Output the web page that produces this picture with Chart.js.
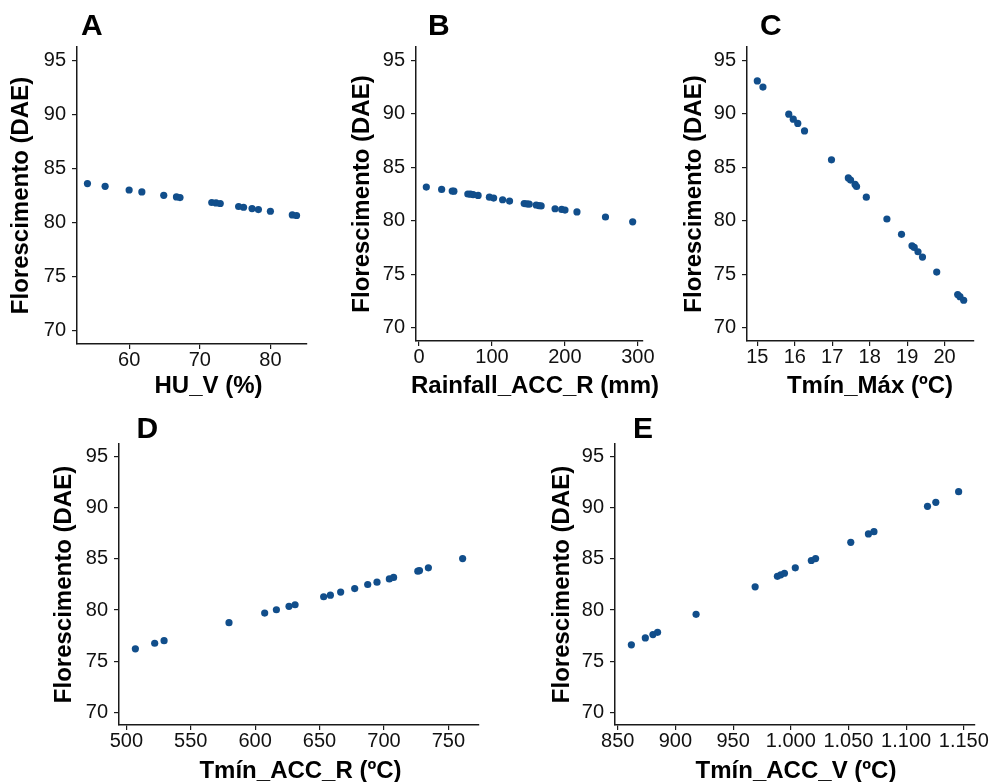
<!DOCTYPE html>
<html>
<head>
<meta charset="utf-8">
<script src="https://cdn.jsdelivr.net/npm/chart.js@4.4.1/dist/chart.umd.min.js"></script>
<style>
  html, body { margin: 0; padding: 0; background: #fff; overflow: hidden; width: 992px; height: 782px; }
  .panel { position: absolute; }
</style>
</head>
<body>
<div class="panel" id="wrap-a"><canvas id="chart-a"></canvas></div>
<div class="panel" id="wrap-b"><canvas id="chart-b"></canvas></div>
<div class="panel" id="wrap-c"><canvas id="chart-c"></canvas></div>
<div class="panel" id="wrap-d"><canvas id="chart-d"></canvas></div>
<div class="panel" id="wrap-e"><canvas id="chart-e"></canvas></div>
<script>
// shared y axis (limits 70-95, ggplot 5% expansion)
const yLimits = [70, 95];
const yTicks = [70, 75, 80, 85, 90, 95];

// A - HU_V (%)
const huV = [54.1, 56.6, 60.0, 61.8, 64.9, 66.7, 67.2, 71.7, 72.3, 72.9, 75.5, 76.2, 77.4, 78.3, 80.0, 83.1, 83.7];
const huVDae = [83.60, 83.35, 83.01, 82.83, 82.52, 82.37, 82.31, 81.85, 81.81, 81.76, 81.48, 81.41, 81.29, 81.20, 81.04, 80.70, 80.65];
const huVTicks = [60, 70, 80];

// B - Rainfall_ACC_R (mm)
const rainAcc = [10, 31, 45.5, 47.8, 66.9, 70.5, 74.2, 81, 96.5, 102.3, 114.6, 124.1, 144.2, 147.9, 151, 160.6, 164.2, 167.4, 186.5, 195.6, 200.1, 216.5, 255.6, 292.9];
const rainDae = [83.15, 82.93, 82.78, 82.76, 82.5, 82.48, 82.45, 82.37, 82.2, 82.12, 81.96, 81.84, 81.6, 81.58, 81.55, 81.47, 81.42, 81.38, 81.12, 81.06, 81.0, 80.82, 80.35, 79.9];
const rainTicks = [0, 100, 200, 300];

// C - Tmín_Máx (ºC)
const tminMax = [15.0, 15.15, 15.84, 15.96, 16.08, 16.26, 16.98, 17.43, 17.49, 17.61, 17.65, 17.91, 18.46, 18.85, 19.13, 19.19, 19.29, 19.41, 19.79, 20.35, 20.41, 20.51];
const tminMaxDae = [93.08, 92.5, 89.97, 89.5, 89.1, 88.4, 85.7, 84.0, 83.8, 83.4, 83.2, 82.2, 80.16, 78.73, 77.66, 77.5, 77.1, 76.6, 75.2, 73.1, 72.9, 72.56];
const tminMaxTicks = [15, 16, 17, 18, 19, 20];

// D - Tmín_ACC_R (ºC)
const tminAccR = [507.0, 522.0, 529.3, 579.7, 607.4, 616.5, 626.3, 631.0, 653.2, 658.4, 666.4, 677.3, 687.4, 694.6, 704.2, 707.5, 726.3, 727.6, 734.5, 761.1];
const tminAccRDae = [76.2, 76.75, 77.0, 78.76, 79.7, 80.03, 80.36, 80.52, 81.3, 81.46, 81.76, 82.1, 82.5, 82.73, 83.05, 83.19, 83.8, 83.86, 84.13, 85.04];
const tminAccRTicks = [500, 550, 600, 650, 700, 750];

// E - Tmín_ACC_V (ºC)
const tminAccV = [861.8, 873.9, 880.5, 884.5, 917.9, 969.1, 988.4, 991.3, 994.5, 1003.9, 1017.8, 1021.5, 1052.0, 1067.3, 1072.1, 1118.5, 1125.7, 1145.5];
const tminAccVDae = [76.6, 77.27, 77.6, 77.82, 79.58, 82.27, 83.3, 83.45, 83.6, 84.13, 84.85, 85.04, 86.63, 87.45, 87.67, 90.15, 90.54, 91.58];
const tminAccVTicks = [850, 900, 950, 1000, 1050, 1100, 1150];

const FONT = '"Liberation Sans", Arial, Helvetica, sans-serif';
const DOT = '#114e8b';
const AXIS = '#1a1a1a';
const Y_AXIS_W = 75;
const X_AXIS_H = 60;
const PAD_R = 28;

// ggplot style 5% expansion
const expand = (lo, hi) => [lo - (hi - lo) * 0.05, hi + (hi - lo) * 0.05];
const fmtNum = v => String(v).replace(/\B(?=(\d{3})+(?!\d))/g, '.');

const panels = [
    { id: 'a', letter: 'A', xTitle: 'HU_V (%)', xs: huV, ys: huVDae, ticks: huVTicks,
      top: 0, area: { l: 77, t: 47, r: 307, b: 344 }, letterAt: [81, 35], titleAt: [208.5, 393], yTitleX: 21 },
    { id: 'b', letter: 'B', xTitle: 'Rainfall_ACC_R (mm)', xs: rainAcc, ys: rainDae, ticks: rainTicks,
      top: 0, area: { l: 416, t: 47, r: 643, b: 341 }, letterAt: [428, 35], titleAt: [535, 393], yTitleX: 362.5 },
    { id: 'c', letter: 'C', xTitle: 'Tmín_Máx (ºC)', xs: tminMax, ys: tminMaxDae, ticks: tminMaxTicks,
      top: 0, area: { l: 747, t: 47, r: 974, b: 341 }, letterAt: [760, 35], titleAt: [870, 393], yTitleX: 694 },
    { id: 'd', letter: 'D', xTitle: 'Tmín_ACC_R (ºC)', xs: tminAccR, ys: tminAccRDae, ticks: tminAccRTicks,
      top: 392, area: { l: 118.5, t: 444, r: 478.5, b: 725 }, letterAt: [136, 438], titleAt: [300, 778], yTitleX: 64 },
    { id: 'e', letter: 'E', xTitle: 'Tmín_ACC_V (ºC)', xs: tminAccV, ys: tminAccVDae, ticks: tminAccVTicks,
      top: 392, area: { l: 615, t: 444, r: 975, b: 725 }, letterAt: [633, 438], titleAt: [796, 778], yTitleX: 562 }
];

// letter tag and x title drawn at their own spots
const panelText = {
    id: 'panelText',
    afterDraw(chart, args, opts) {
        const ctx = chart.ctx;
        ctx.save();
        ctx.fillStyle = '#000';
        ctx.textBaseline = 'alphabetic';
        ctx.textAlign = 'left';
        ctx.font = `bold 30px ${FONT}`;
        ctx.fillText(opts.letter, opts.letterAt[0] - opts.ox, opts.letterAt[1] - opts.oy);
        ctx.textAlign = 'center';
        ctx.font = `bold 24px ${FONT}`;
        ctx.fillText(opts.xTitle, opts.titleAt[0] - opts.ox, opts.titleAt[1] - opts.oy);
        ctx.restore();
    }
};

const tickGrid = { display: true, drawOnChartArea: false, drawTicks: true, tickLength: 5, color: AXIS, lineWidth: 1.2 };
const axisBorder = { display: true, color: AXIS, width: 1.5 };

panels.forEach(p => {
    const ox = p.area.l - Y_AXIS_W;
    const oy = p.top;
    const w = p.area.r - ox + PAD_R;
    const h = p.area.b + X_AXIS_H - oy;

    const wrap = document.getElementById('wrap-' + p.id);
    wrap.style.left = ox + 'px';
    wrap.style.top = oy + 'px';
    const canvas = document.getElementById('chart-' + p.id);
    canvas.width = w;
    canvas.height = h;
    canvas.style.width = w + 'px';
    canvas.style.height = h + 'px';

    const [xMin, xMax] = expand(Math.min(...p.xs), Math.max(...p.xs));
    const [yMin, yMax] = expand(yLimits[0], yLimits[1]);
    const yTitleHalf = 24 * 1.2 / 2;

    new Chart(canvas, {
        type: 'scatter',
        data: {
            datasets: [{
                data: p.xs.map((x, i) => ({ x, y: p.ys[i] })),
                pointRadius: 3.6,
                pointHoverRadius: 3.6,
                pointBackgroundColor: DOT,
                pointBorderWidth: 0
            }]
        },
        options: {
            responsive: false,
            animation: false,
            events: [],
            layout: { padding: { top: p.area.t - oy, right: PAD_R, left: 0, bottom: 0 } },
            plugins: {
                legend: { display: false },
                tooltip: { enabled: false },
                panelText: { letter: p.letter, xTitle: p.xTitle, letterAt: p.letterAt, titleAt: p.titleAt, ox, oy }
            },
            scales: {
                x: {
                    type: 'linear',
                    min: xMin,
                    max: xMax,
                    afterBuildTicks: s => { s.ticks = p.ticks.map(v => ({ value: v })); },
                    afterFit: s => { s.height = X_AXIS_H; },
                    ticks: {
                        autoSkip: false,
                        maxRotation: 0,
                        padding: 1,
                        color: '#111',
                        font: { family: FONT, size: 20, lineHeight: 1 },
                        callback: v => fmtNum(v)
                    },
                    grid: tickGrid,
                    border: axisBorder
                },
                y: {
                    type: 'linear',
                    min: yMin,
                    max: yMax,
                    afterBuildTicks: s => { s.ticks = yTicks.map(v => ({ value: v })); },
                    afterFit: s => { s.width = Y_AXIS_W; },
                    ticks: {
                        padding: 6,
                        color: '#111',
                        font: { family: FONT, size: 20 }
                    },
                    title: {
                        display: true,
                        text: 'Florescimento (DAE)',
                        color: '#000',
                        font: { family: FONT, size: 24, weight: 'bold' },
                        padding: { top: p.yTitleX - ox - yTitleHalf, bottom: 0 }
                    },
                    grid: tickGrid,
                    border: axisBorder
                }
            }
        },
        plugins: [panelText]
    });
});
</script>
</body>
</html>
